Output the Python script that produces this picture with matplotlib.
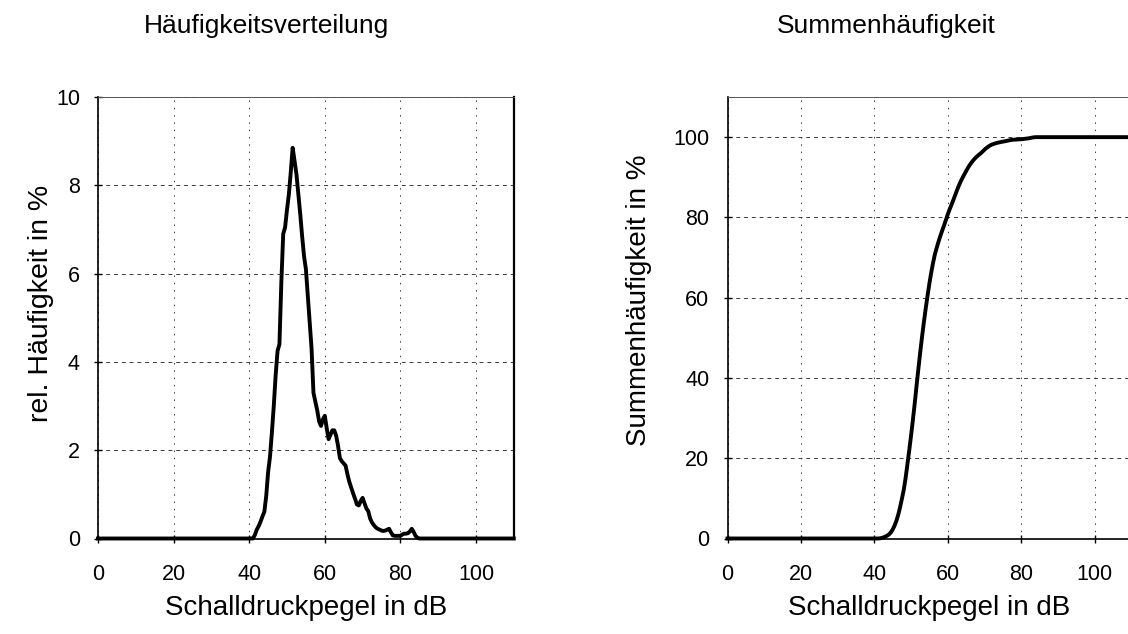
import numpy as np
import matplotlib
matplotlib.use("Agg")
import matplotlib.pyplot as plt

plt.rcParams['font.family'] = ['Liberation Sans', 'DejaVu Sans']

# Schallpegel-Klassen im belegten Bereich (0,5-dB-Raster), darunter und darüber 0 %
pegel_db = np.arange(40.0, 85.5, 0.5)
# relative Häufigkeit in %/dB
haeufigkeit = [
    0.0, 0.0, 0.0, 0.08, 0.2, 0.28, 0.38, 0.5, 0.6, 0.96,        # 40.0 - 44.5
    1.5, 1.85, 2.4, 3.0, 3.7, 4.25, 4.4, 5.8, 6.9, 7.05,         # 45.0 - 49.5
    7.45, 7.8, 8.3, 8.85, 8.55, 8.25, 7.8, 7.35, 6.85, 6.4,      # 50.0 - 54.5
    6.1, 5.5, 4.9, 4.3, 3.3, 3.1, 2.9, 2.65, 2.55, 2.7,          # 55.0 - 59.5
    2.78, 2.5, 2.25, 2.35, 2.45, 2.45, 2.33, 2.1, 1.82, 1.75,    # 60.0 - 64.5
    1.7, 1.65, 1.45, 1.28, 1.15, 1.02, 0.9, 0.77, 0.75, 0.85,    # 65.0 - 69.5
    0.92, 0.8, 0.68, 0.62, 0.45, 0.36, 0.3, 0.25, 0.22, 0.2,     # 70.0 - 74.5
    0.18, 0.17, 0.18, 0.2, 0.22, 0.14, 0.07, 0.06, 0.06, 0.06,   # 75.0 - 79.5
    0.06, 0.09, 0.11, 0.11, 0.12, 0.16, 0.22, 0.15, 0.06, 0.02,  # 80.0 - 84.5
    0.0,                                                         # 85.0
]
pegel_min, pegel_max = 0.0, 110.0

x_ticks = [0, 20, 40, 60, 80, 100]
y_ticks_hist = [0, 2, 4, 6, 8, 10]
y_ticks_sum = [0, 20, 40, 60, 80, 100]

titel_links = "Häufigkeitsverteilung"
titel_rechts = "Summenhäufigkeit"
x_beschriftung = "Schalldruckpegel in dB"
y_beschriftung_links = "rel. Häufigkeit in %"
y_beschriftung_rechts = "Summenhäufigkeit in %"

# vollständige Kurven über den gesamten Pegelbereich
h = np.asarray(haeufigkeit)
x_voll = np.concatenate([[pegel_min], pegel_db, [pegel_max]])
h_voll = np.concatenate([[0.0], h, [0.0]])
summe = 100.0 * np.cumsum(h) / h.sum()
s_voll = np.concatenate([[0.0], summe, [100.0]])

W, H = 1128, 634
fig = plt.figure(figsize=(W / 100, H / 100), dpi=100)
fig.patch.set_facecolor('white')

ax1 = fig.add_axes([98 / W, 1 - 538.5 / H, 415.8 / W, 441.5 / H])
ax2 = fig.add_axes([727.5 / W, 1 - 538.5 / H, 403.7 / W, 441.5 / H])


def gestalten(ax, yticks, ylim):
    ax.set_xlim(pegel_min, pegel_max)
    ax.set_ylim(*ylim)
    ax.set_xticks(x_ticks)
    ax.set_yticks(yticks)
    ax.grid(True, axis='y', color='#3a3a3a', linewidth=0.7, linestyle=(0, (4, 4)))
    ax.grid(True, axis='x', color='#3a3a3a', linewidth=0.7, linestyle=(0, (1.5, 6)))
    ax.set_axisbelow(True)
    ax.tick_params(direction='inout', length=6, width=1.0, labelsize=15.5, colors='black')
    ax.tick_params(axis='x', pad=15)
    ax.tick_params(axis='y', pad=10)
    for s in ('left', 'bottom'):
        ax.spines[s].set_linewidth(1.2)
        ax.spines[s].set_color('black')
    ax.spines['right'].set_linewidth(1.6)
    ax.spines['top'].set_linewidth(0.7)
    ax.spines['top'].set_color('#555555')


gestalten(ax1, y_ticks_hist, (0, 10))
ax1.plot(x_voll, h_voll, color='black', linewidth=2.8, solid_joinstyle='round',
         clip_on=False, zorder=5)

gestalten(ax2, y_ticks_sum, (0, 110))
ax2.plot(x_voll, s_voll, color='black', linewidth=2.8, solid_joinstyle='round',
         clip_on=False, zorder=5)

fig.text(266 / W, 1 - 26 / H, titel_links, ha='center', va='center', fontsize=19)
fig.text(886 / W, 1 - 26 / H, titel_rechts, ha='center', va='center', fontsize=19)
fig.text(306 / W, 1 - 608 / H, x_beschriftung, ha='center', va='center', fontsize=20)
fig.text(929 / W, 1 - 608 / H, x_beschriftung, ha='center', va='center', fontsize=20)
fig.text(41 / W, 1 - 303 / H, y_beschriftung_links, ha='center', va='center',
         rotation=90, fontsize=20.5)
fig.text(639 / W, 1 - 300 / H, y_beschriftung_rechts, ha='center', va='center',
         rotation=90, fontsize=20)

fig.savefig("out.png", dpi=100, facecolor='white')
